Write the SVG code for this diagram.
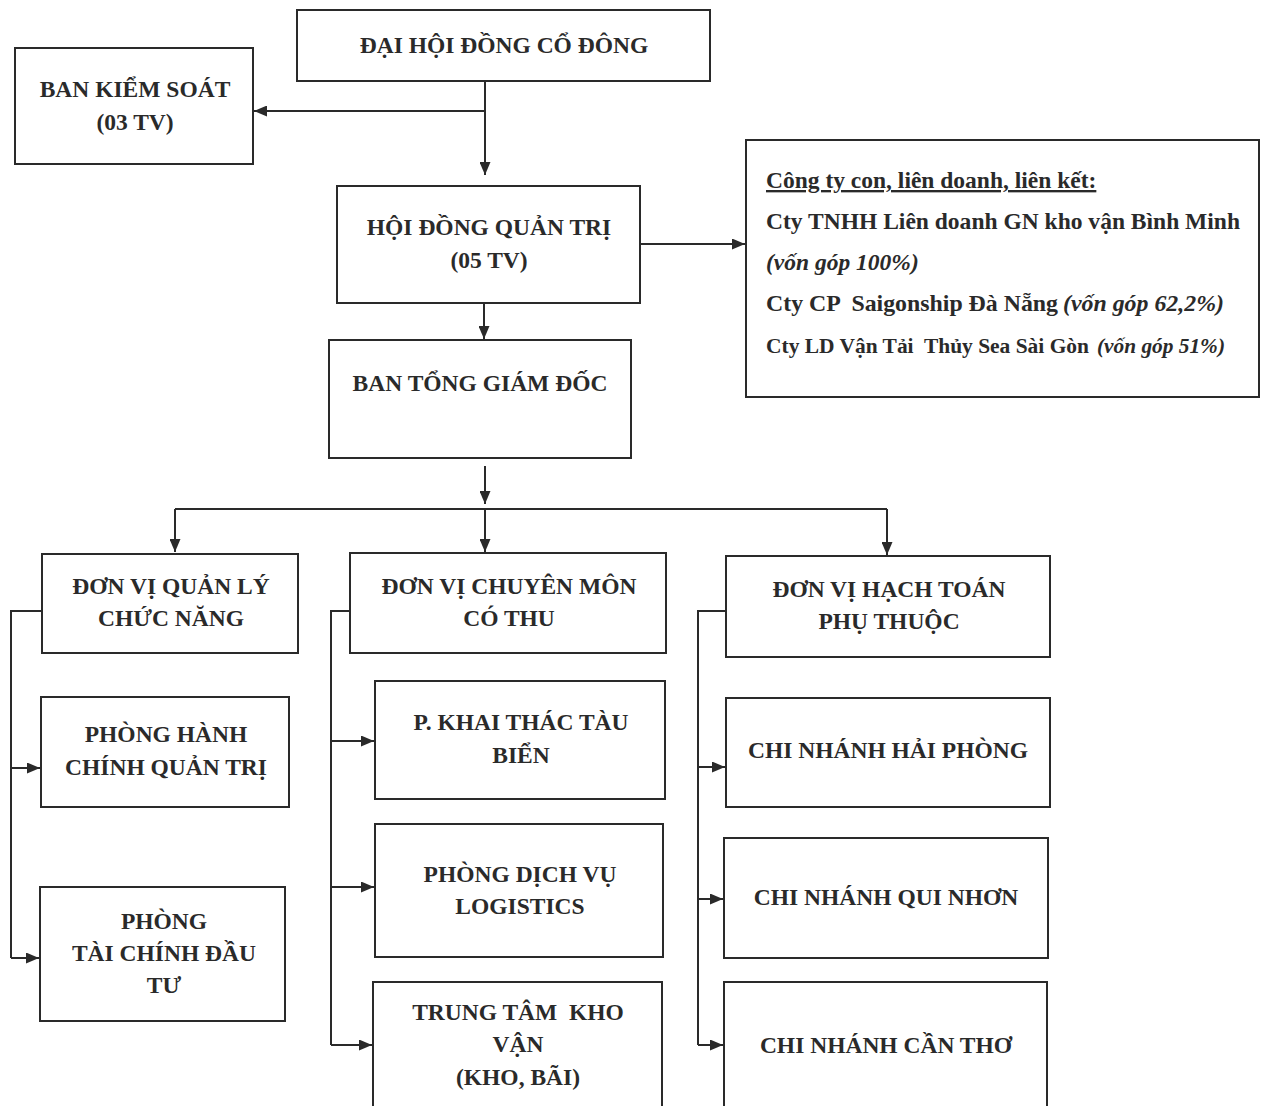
<svg xmlns="http://www.w3.org/2000/svg" width="1262" height="1106" viewBox="0 0 1262 1106">
<defs>
<style>
.box{fill:#fff;stroke:#2a2a2a;stroke-width:2}
.t{font-family:"Liberation Serif","Times New Roman",serif;font-weight:bold;font-size:23.5px;fill:#2a2a2a;text-anchor:middle;white-space:pre}
.l{font-family:"Liberation Serif","Times New Roman",serif;font-weight:bold;font-size:23.5px;fill:#2a2a2a;white-space:pre}
.i{font-style:italic}
.c{fill:none;stroke:#2a2a2a;stroke-width:2}
</style>
<marker id="ah" viewBox="0 0 13 11" refX="13" refY="5.5" markerWidth="13" markerHeight="11" markerUnits="userSpaceOnUse" orient="auto">
<path d="M0,0 L13,5.5 L0,11 Z" fill="#2a2a2a"/>
</marker>
</defs>
<rect width="1262" height="1106" fill="#fff"/>

<g id="connectors">
<path class="c" d="M485,81 V175" marker-end="url(#ah)"/>
<path class="c" d="M485,111 H254" marker-end="url(#ah)"/>
<path class="c" d="M640,244 H745" marker-end="url(#ah)"/>
<path class="c" d="M484,303 V339" marker-end="url(#ah)"/>
<path class="c" d="M485,466 V504" marker-end="url(#ah)"/>
<path class="c" d="M175,509 H887"/>
<path class="c" d="M175,509 V552" marker-end="url(#ah)"/>
<path class="c" d="M485,509 V552" marker-end="url(#ah)"/>
<path class="c" d="M887,509 V555" marker-end="url(#ah)"/>
<path class="c" d="M42,611 H11 V958"/>
<path class="c" d="M11,768 H40" marker-end="url(#ah)"/>
<path class="c" d="M11,958 H39" marker-end="url(#ah)"/>
<path class="c" d="M350,611 H331 V1045"/>
<path class="c" d="M331,741 H374" marker-end="url(#ah)"/>
<path class="c" d="M331,887 H374" marker-end="url(#ah)"/>
<path class="c" d="M331,1045 H372" marker-end="url(#ah)"/>
<path class="c" d="M726,611 H698 V1045"/>
<path class="c" d="M698,767 H725" marker-end="url(#ah)"/>
<path class="c" d="M698,899 H723" marker-end="url(#ah)"/>
<path class="c" d="M698,1045 H723" marker-end="url(#ah)"/>
</g>

<g id="dhdcd"><rect class="box" x="297" y="10" width="413" height="71"/><text class="t" x="504" y="53">ĐẠI HỘI ĐỒNG CỔ ĐÔNG</text></g>
<g id="bks"><rect class="box" x="15" y="48" width="238" height="116"/><text class="t" x="135" y="97">BAN KIỂM SOÁT</text><text class="t" x="135" y="130">(03 TV)</text></g>
<g id="hdqt"><rect class="box" x="337" y="186" width="303" height="117"/><text class="t" x="489" y="235">HỘI ĐỒNG QUẢN TRỊ</text><text class="t" x="489" y="268">(05 TV)</text></g>
<g id="ctcon"><rect class="box" x="746" y="140" width="513" height="257"/>
<text class="l" x="766" y="188" text-decoration="underline">Công ty con, liên doanh, liên kết:</text>
<text class="l" x="766" y="229" textLength="474" lengthAdjust="spacingAndGlyphs">Cty TNHH Liên doanh GN kho vận Bình Minh</text>
<text class="l i" x="766" y="270">(vốn góp 100%)</text>
<text class="l" x="766" y="311" textLength="292" lengthAdjust="spacingAndGlyphs">Cty CP  Saigonship Đà Nẵng</text>
<text class="l i" x="1063" y="311" textLength="161" lengthAdjust="spacingAndGlyphs">(vốn góp 62,2%)</text>
<text class="l" x="766" y="353" style="font-size:21.2px" textLength="323" lengthAdjust="spacingAndGlyphs">Cty LD Vận Tải  Thủy Sea Sài Gòn</text>
<text class="l i" x="1097" y="353" style="font-size:21.5px" textLength="128" lengthAdjust="spacingAndGlyphs">(vốn góp 51%)</text>
</g>
<g id="btgd"><rect class="box" x="329" y="340" width="302" height="118"/><text class="t" x="480" y="391">BAN TỔNG GIÁM ĐỐC</text></g>

<g id="qlcn"><rect class="box" x="42" y="554" width="256" height="99"/><text class="t" x="171" y="594">ĐƠN VỊ QUẢN LÝ</text><text class="t" x="171" y="626">CHỨC NĂNG</text></g>
<g id="cmct"><rect class="box" x="350" y="553" width="316" height="100"/><text class="t" x="509" y="594">ĐƠN VỊ CHUYÊN MÔN</text><text class="t" x="509" y="626">CÓ THU</text></g>
<g id="htpt"><rect class="box" x="726" y="556" width="324" height="101"/><text class="t" x="889" y="597">ĐƠN VỊ HẠCH TOÁN</text><text class="t" x="889" y="629">PHỤ THUỘC</text></g>

<g id="phcqt"><rect class="box" x="41" y="697" width="248" height="110"/><text class="t" x="166" y="742">PHÒNG HÀNH</text><text class="t" x="166" y="775">CHÍNH QUẢN TRỊ</text></g>
<g id="ptcdt"><rect class="box" x="40" y="887" width="245" height="134"/><text class="t" x="164" y="929">PHÒNG</text><text class="t" x="164" y="961">TÀI CHÍNH ĐẦU</text><text class="t" x="164" y="993">TƯ</text></g>

<g id="pkttb"><rect class="box" x="375" y="681" width="290" height="118"/><text class="t" x="521" y="730">P. KHAI THÁC TÀU</text><text class="t" x="521" y="763">BIỂN</text></g>
<g id="pdvl"><rect class="box" x="375" y="824" width="288" height="133"/><text class="t" x="520" y="882">PHÒNG DỊCH VỤ</text><text class="t" x="520" y="914">LOGISTICS</text></g>
<g id="ttkv"><rect class="box" x="373" y="982" width="289" height="140"/><text class="t" x="518" y="1020">TRUNG TÂM  KHO</text><text class="t" x="518" y="1052">VẬN</text><text class="t" x="518" y="1085">(KHO, BÃI)</text></g>

<g id="cnhp"><rect class="box" x="726" y="698" width="324" height="109"/><text class="t" x="888" y="758">CHI NHÁNH HẢI PHÒNG</text></g>
<g id="cnqn"><rect class="box" x="724" y="838" width="324" height="120"/><text class="t" x="886" y="905">CHI NHÁNH QUI NHƠN</text></g>
<g id="cnct"><rect class="box" x="724" y="982" width="323" height="140"/><text class="t" x="886" y="1053">CHI NHÁNH CẦN THƠ</text></g>
</svg>
